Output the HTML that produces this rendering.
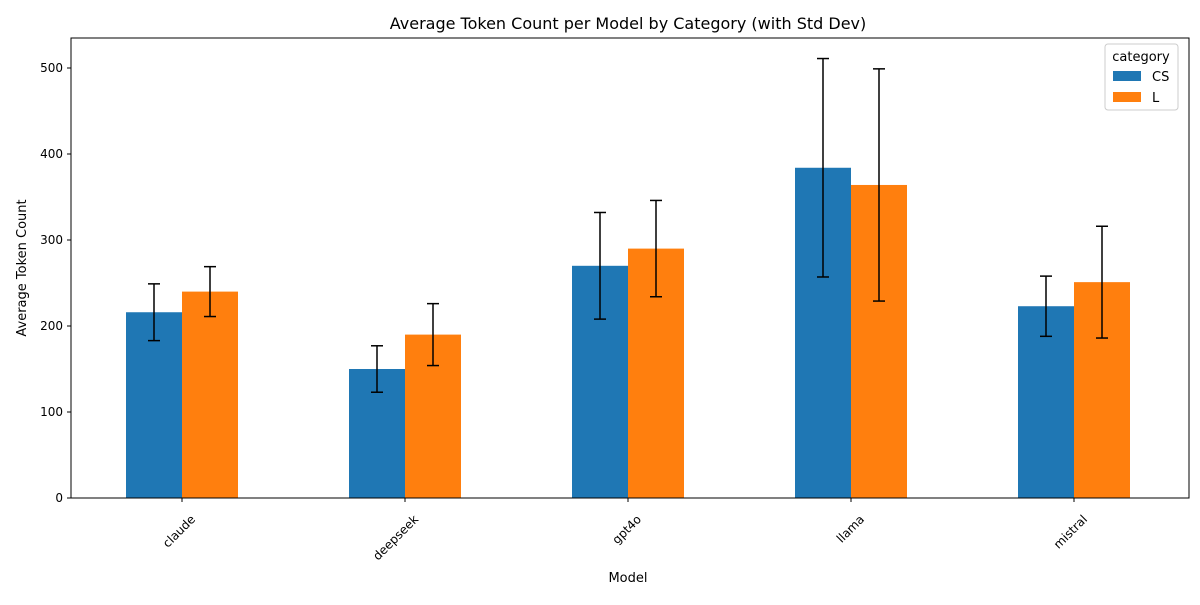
<!DOCTYPE html>
<html><head><meta charset="utf-8"><style>
body{margin:0;background:#fff;font-family:"Liberation Sans","DejaVu Sans",sans-serif}
svg text{font-family:"DejaVu Sans","Liberation Sans",sans-serif;fill:#000}
</style></head><body>
<svg id="chart" width="1200" height="600"></svg>
<script>
const categories=["claude","deepseek","gpt4o","llama","mistral"];
const csValues=[216,150,270,384,223];
const lValues=[240,190,290,364,251];
const csStd=[33,27,62,127,35];
const lStd=[29,36,56,135,65];
const yTicks=[0,100,200,300,400,500];
const seriesNames=["CS","L"];
const colors=["#1f77b4","#ff7f0e"];

const NS="http://www.w3.org/2000/svg";
const svg=document.getElementById("chart");
const L=71,R=1189,T=38,B=498;
const yScale=v=>B-v*(430/500);
const groupStep=223;
const xCenter=i=>L+111+groupStep*i;
const barW=56;
function mk(tag,attrs,parent){const e=document.createElementNS(NS,tag);for(const k in attrs)e.setAttribute(k,attrs[k]);(parent||svg).appendChild(e);return e;}

const title=mk("text",{x:628,y:29,"text-anchor":"middle","font-size":16});
title.textContent="Average Token Count per Model by Category (with Std Dev)";



const series=[[csValues,csStd],[lValues,lStd]];
series.forEach((s,si)=>{
  s[0].forEach((v,i)=>{
    const x=xCenter(i)+(si===0?-barW:0);
    const r=mk("rect",{x:x,y:yScale(v),width:barW,height:yScale(0)-yScale(v),fill:colors[si]});
    
    
  });
});
series.forEach((s,si)=>{
  s[0].forEach((v,i)=>{
    const cx=xCenter(i)+(si===0?-barW/2:barW/2);
    const g=mk("g",{stroke:"#000","stroke-width":1.5});
    
    
    const hi=yScale(v+s[1][i]),lo=yScale(v-s[1][i]);
    mk("line",{x1:cx,x2:cx,y1:hi,y2:lo},g);
    mk("line",{x1:cx-6,x2:cx+6,y1:hi,y2:hi},g);
    mk("line",{x1:cx-6,x2:cx+6,y1:lo,y2:lo},g);
  });
});
const frame=mk("rect",{x:L,y:T,width:R-L,height:B-T,fill:"none",stroke:"#000","stroke-width":1});



yTicks.forEach(t=>{
  const y=yScale(t);
  mk("line",{x1:L-4,x2:L,y1:y,y2:y,stroke:"#000"});
  const tx=mk("text",{x:L-8,y:y+4,"text-anchor":"end","font-size":12});
  tx.textContent=t;
  
  
});
categories.forEach((c,i)=>{
  const x=xCenter(i);
  mk("line",{x1:x,x2:x,y1:B,y2:B+4,stroke:"#000"});
  const ax=x+14, ay=B+22;
  const tx=mk("text",{x:ax,y:ay,"text-anchor":"end","font-size":12,transform:`rotate(-45 ${ax} ${ay})`});
  tx.textContent=c;
  
  
});
const xt=mk("text",{x:628,y:582,"text-anchor":"middle","font-size":13});
xt.textContent="Model";


const yt=mk("text",{x:26,y:268,"text-anchor":"middle","font-size":13,transform:"rotate(-90 26 268)"});
yt.textContent="Average Token Count";



const lg=mk("g",{});


mk("rect",{x:1105,y:44,width:73,height:66,fill:"#fff",stroke:"#ccc",rx:3},lg);
const lt=mk("text",{x:1141,y:61,"text-anchor":"middle","font-size":13},lg);
lt.textContent="category";
seriesNames.forEach((n,i)=>{
  const y=71+i*21;
  const sw=mk("rect",{x:1113,y:y,width:28,height:10,fill:colors[i]},lg);
  
  
  const t=mk("text",{x:1152,y:y+10,"font-size":13},lg);
  t.textContent=n;
  
  
});
</script>
</body></html>
